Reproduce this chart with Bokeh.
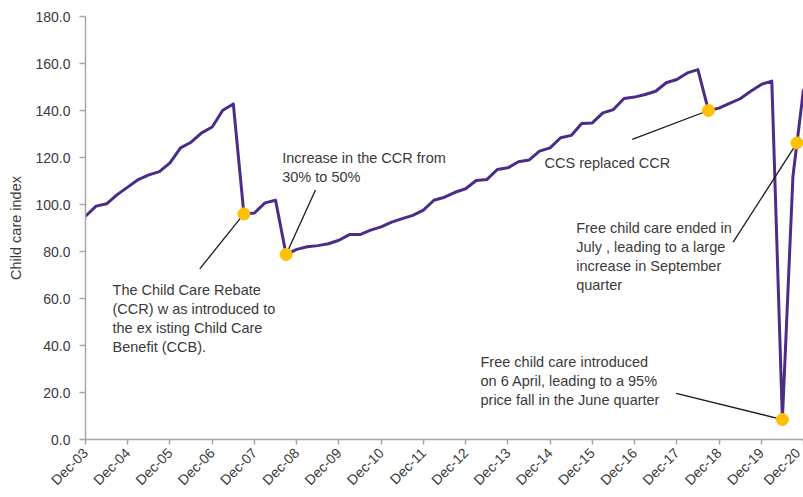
import math
from bokeh.plotting import figure
from bokeh.models import FixedTicker, NumeralTickFormatter, Label, ColumnDataSource, Range1d
from bokeh.embed import file_html
from bokeh.resources import INLINE

# Quarterly child care index, Dec-03 .. Dec-20
index_values = [
    95.0, 99.3, 100.3, 104.2, 107.4, 110.6, 112.6, 114.0, 117.7, 124.1,
    126.5, 130.5, 133.0, 140.1, 142.8, 96.0, 96.4, 100.7, 101.8, 78.7,
    80.9, 82.0, 82.5, 83.3, 84.8, 87.2, 87.2, 89.1, 90.5, 92.5,
    94.0, 95.4, 97.6, 101.8, 103.1, 105.2, 106.7, 110.2, 110.6, 114.9,
    115.6, 118.2, 118.9, 122.7, 124.1, 128.4, 129.4, 134.5, 134.7, 139.0,
    140.4, 145.1, 145.7, 146.8, 148.2, 151.8, 153.2, 156.0, 157.4, 140.0,
    141.0, 143.0, 145.0, 148.2, 151.1, 152.5, 8.5, 112.0, 149.0,
]
quarter_index = list(range(len(index_values)))

tick_labels = ["Dec-03", "Dec-04", "Dec-05", "Dec-06", "Dec-07", "Dec-08",
               "Dec-09", "Dec-10", "Dec-11", "Dec-12", "Dec-13", "Dec-14",
               "Dec-15", "Dec-16", "Dec-17", "Dec-18", "Dec-19", "Dec-20"]
tick_positions = [4 * k for k in range(len(tick_labels))]

y_ticks = [0, 20, 40, 60, 80, 100, 120, 140, 160, 180]

# highlighted events (quarter index, index value)
marker_quarter = [15, 19, 59, 66, 67.38]
marker_value = [96.0, 78.7, 140.0, 8.5, 126.2]

# annotation texts (same order as the events) and their anchor (quarter index, index value)
note_texts = [
    "The Child Care Rebate\n(CCR) w as introduced to\nthe ex isting Child Care\nBenefit (CCB).",
    "Increase in the CCR from\n30% to 50%",
    "CCS replaced CCR",
    "Free child care introduced\non 6 April, leading to a 95%\nprice fall in the June quarter",
    "Free child care ended in\nJuly , leading to a large\nincrease in September\nquarter",
]
note_x = [2.56, 18.63, 43.47, 37.41, 46.47]
note_y = [66.9, 123.2, 121.2, 36.4, 93.4]

# leader line starts (ends are the event markers)
leader_x0 = [10.82, 21.78, 51.78, 55.94, 61.34]
leader_y0 = [72.6, 106.2, 127.7, 19.6, 84.0]

FONT = "Liberation Sans"
TEXT_COLOR = "#3a3a3a"
AXIS_COLOR = "#a6a6a6"

p = figure(width=803, height=496, output_backend="svg", toolbar_location=None,
           x_range=Range1d(0, 68), y_range=Range1d(0, 180),
           min_border_left=85, min_border_right=0, min_border_top=16, min_border_bottom=57)
p.outline_line_color = None
p.background_fill_color = "white"
p.xgrid.grid_line_color = None
p.ygrid.grid_line_color = None

src = ColumnDataSource(dict(x=quarter_index, y=index_values))
p.line("x", "y", source=src, line_color="#4B2D87", line_width=3, line_join="round")

lsrc = ColumnDataSource(dict(x0=leader_x0, y0=leader_y0, x1=marker_quarter, y1=marker_value))
p.segment("x0", "y0", "x1", "y1", source=lsrc, line_color="#1a1a1a", line_width=1.3)

msrc = ColumnDataSource(dict(x=marker_quarter, y=marker_value))
p.scatter("x", "y", source=msrc, size=12, fill_color="#FFC000", line_color="#FFC000")

for t, x, y in zip(note_texts, note_x, note_y):
    p.add_layout(Label(x=x, y=y, text=t, text_font=FONT, text_font_size="14.5px",
                       text_color=TEXT_COLOR, text_baseline="top", text_align="left",
                       text_line_height=1.18))

# axes
p.xaxis.ticker = FixedTicker(ticks=tick_positions)
p.xaxis.major_label_overrides = {pos: lab for pos, lab in zip(tick_positions, tick_labels)}
p.xaxis.major_label_orientation = math.pi / 4
p.yaxis.ticker = FixedTicker(ticks=y_ticks)
p.yaxis.formatter = NumeralTickFormatter(format="0.0")
p.yaxis.axis_label = "Child care index"

for ax in (p.xaxis, p.yaxis):
    ax.axis_line_color = AXIS_COLOR
    ax.axis_line_width = 1.5
    ax.major_tick_line_color = AXIS_COLOR
    ax.major_tick_line_width = 1.5
    ax.major_tick_in = 0
    ax.minor_tick_line_color = None
    ax.major_label_text_font = FONT
    ax.major_label_text_font_size = "14px"
    ax.major_label_text_color = TEXT_COLOR

p.xaxis.major_tick_out = 5
p.yaxis.major_tick_out = 6
p.yaxis.major_label_standoff = 9
p.xaxis.major_label_standoff = 6
p.yaxis.axis_label_text_font = FONT
p.yaxis.axis_label_text_font_size = "14.5px"
p.yaxis.axis_label_text_font_style = "normal"
p.yaxis.axis_label_text_color = TEXT_COLOR
p.yaxis.axis_label_standoff = 8

open("out.html", "w").write(file_html(p, INLINE))
